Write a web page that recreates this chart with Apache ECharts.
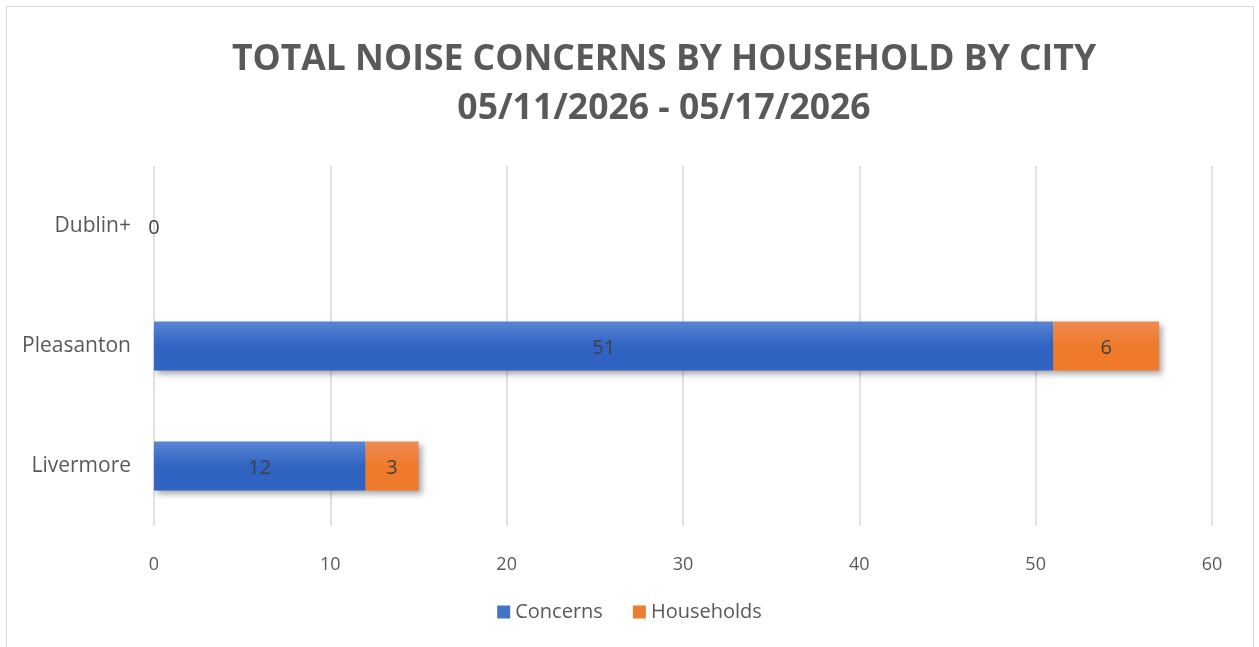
<!DOCTYPE html>
<html>
<head>
<meta charset="utf-8">
<script src="https://cdn.jsdelivr.net/npm/echarts@6/dist/echarts.min.js"></script>
<style>
  html, body { margin: 0; padding: 0; background: #fff; overflow: hidden; }
  #frame { position: absolute; left: 6px; top: 6px; width: 1246px; height: 700px; border: 1px solid #d9d9d9; }
  #chart { position: absolute; left: 0; top: 0; width: 1259px; height: 647px; }
</style>
</head>
<body>
<div id="frame"></div>
<div id="chart"></div>
<script>
var cities = ['Livermore', 'Pleasanton', 'Dublin+'];
var concerns = [12, 51, 0];
var households = [3, 6, null];
var xTicks = [0, 10, 20, 30, 40, 50, 60];

var font = '"Open Sans", "Liberation Sans", sans-serif';
var grey = '#595959';

function grad(top, bottom) {
  return new echarts.graphic.LinearGradient(0, 0, 0, 1, [
    {offset: 0, color: top},
    {offset: 0.5, color: bottom},
    {offset: 1, color: bottom}
  ]);
}

var chart = echarts.init(document.getElementById('chart'));
var option = {
  animation: false,
  title: {
    text: 'TOTAL NOISE CONCERNS BY HOUSEHOLD BY CITY\n05/11/2026 - 05/17/2026',
    left: 659,
    textAlign: 'center',
    top: 30,
    textStyle: {fontFamily: font, fontSize: 35.5, fontWeight: 'bold', color: grey, lineHeight: 49}
  },
  legend: {
    bottom: 20,
    left: 'center',
    itemWidth: 13,
    itemHeight: 13,
    itemGap: 30,
    icon: 'rect',
    textStyle: {fontFamily: font, fontSize: 20, color: grey},
    data: [
      {name: 'Concerns', itemStyle: {color: '#4472C4'}},
      {name: 'Households', itemStyle: {color: '#ED7D31'}}
    ]
  },
  grid: {left: 154, right: 47, top: 166, bottom: 121, containLabel: false},
  xAxis: {
    type: 'value',
    min: 0, max: 60, interval: 10,
    axisLine: {show: false},
    axisTick: {show: false},
    splitLine: {lineStyle: {color: '#d9d9d9', width: 1.5}},
    axisLabel: {fontFamily: font, fontSize: 18, color: grey, margin: 30,
      formatter: function (v) { return xTicks.indexOf(v) >= 0 ? String(v) : ''; }}
  },
  yAxis: {
    type: 'category',
    data: cities,
    axisLine: {show: false},
    axisTick: {show: false},
    axisLabel: {fontFamily: font, fontSize: 21, color: grey, margin: 23}
  },
  series: [
    {
      name: 'Concerns', type: 'bar', stack: 'total', barWidth: 49,
      data: concerns,
      itemStyle: {color: grad('#5A86D6', '#3163C2'), shadowColor: 'rgba(0,0,0,0.35)', shadowBlur: 6, shadowOffsetX: 3, shadowOffsetY: 3},
      label: {show: true, position: 'inside', fontFamily: font, fontSize: 20, color: '#404040', offset: [0, 2]}
    },
    {
      name: 'Households', type: 'bar', stack: 'total', barWidth: 49,
      data: households,
      itemStyle: {color: grad('#F08A52', '#EE7A2A'), shadowColor: 'rgba(0,0,0,0.35)', shadowBlur: 6, shadowOffsetX: 3, shadowOffsetY: 3},
      label: {show: true, position: 'inside', fontFamily: font, fontSize: 20, color: '#404040', offset: [0, 2]}
    }
  ]
};
chart.setOption(option);
</script>
</body>
</html>
